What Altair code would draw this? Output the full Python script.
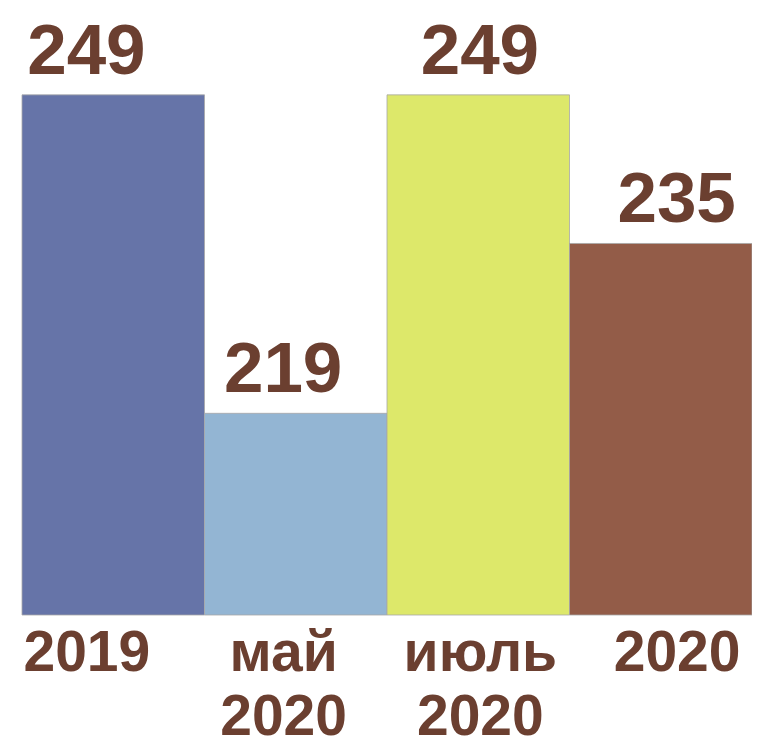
import altair as alt
import pandas as pd

categories = ["2019", "май\n2020", "июль\n2020", "2020"]
values = [249, 219, 249, 235]
colors = ["#6674a8", "#93b5d3", "#dde86a", "#935c48"]
baseline_value = 200
text_color = "#6b3f30"

df = pd.DataFrame({"cat": categories, "value": values})

yscale = alt.Scale(domain=[baseline_value, 255.3], nice=False, zero=False)

bars = alt.Chart(df).mark_bar(stroke="#a8a8a8", strokeWidth=1, strokeOpacity=0.8).encode(
    x=alt.X("cat:N", sort=categories, axis=None,
            scale=alt.Scale(paddingInner=0, paddingOuter=0)),
    y=alt.Y("value:Q", scale=yscale, axis=None),
    y2=alt.datum(baseline_value),
    color=alt.Color("cat:N", sort=categories,
                    scale=alt.Scale(domain=categories, range=colors), legend=None),
)

labels = alt.Chart(df).mark_text(
    font="Liberation Sans", fontWeight="bold", fontSize=71, color=text_color,
    baseline="alphabetic", dy=-21,
).encode(
    x=alt.X("cat:N", sort=categories,
            scale=alt.Scale(range=[-34, 753], paddingInner=0, paddingOuter=0),
            axis=alt.Axis(title=None, domain=False, ticks=False, grid=False,
                          labelAngle=0, labelFont="Liberation Sans", labelFontWeight="bold",
                          labelFontSize=57, labelColor=text_color,
                          labelBaseline="alphabetic", labelPadding=55,
                          labelLineHeight=64, labelOverlap=False, labelFlush=False,
                          labelExpr="split(datum.label, '\\n')")),
    y=alt.Y("value:Q", scale=yscale, axis=None),
    text=alt.Text("value:Q"),
)

chart = alt.layer(bars, labels).resolve_scale(x="independent").properties(
    width=730, height=587,
    autosize=alt.AutoSizeParams(type="none"),
    padding={"left": 14, "top": 20, "right": 0, "bottom": 132},
).configure_view(stroke=None)

chart.save("out.html", embed_options={"renderer": "svg", "actions": False})
